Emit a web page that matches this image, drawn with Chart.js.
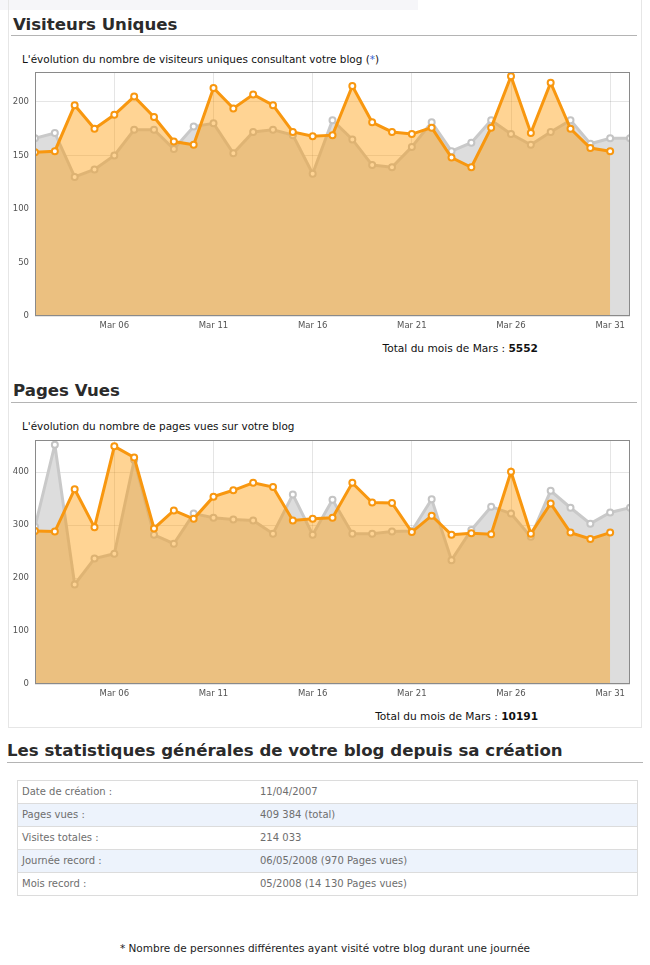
<!DOCTYPE html>
<html>
<head>
<meta charset="utf-8">
<script src="https://cdn.jsdelivr.net/npm/chart.js@4.4.1/dist/chart.umd.min.js"></script>
<style>
  html, body { margin:0; padding:0; background:#fff; }
  body { width:650px; height:965px; position:relative; overflow:hidden; font-family:"DejaVu Sans", sans-serif; color:#222; }
  .abs { position:absolute; white-space:nowrap; }
  .topband { left:0; top:0; width:418px; height:10px; background:#f6f6f9; }
  .panel { left:8px; top:-1px; width:632px; height:727px; border:1px solid #e6e6e6; }
  .h2 { font-weight:bold; font-size:16.6px; line-height:20px; height:20px; color:#2b2b2b; }
  .rule { height:1px; background:#b4b4b4; }
  .sub { font-size:10.45px; line-height:14px; height:14px; color:#111; }
  .sub .star { color:#3a66d0; }
  .total { font-size:10.6px; line-height:14px; height:14px; color:#111; }
  .total b { font-weight:bold; }
  canvas { position:absolute; left:0; }
  .tbl { left:17px; top:780px; width:619px; border:1px solid #dcdcdc; }
  .row { position:relative; height:22px; border-top:1px solid #dcdcdc; font-size:10px; color:#6e6e6e; }
  .row:first-child { border-top:none; }
  .row.alt { background:#edf3fc; }
  .row span { position:absolute; top:0; line-height:22px; white-space:nowrap; }
  .row .k { left:4px; }
  .row .v { left:242px; }
  .foot { left:0; width:650px; text-align:center; font-size:10.5px; line-height:14px; color:#222; }
</style>
</head>
<body>
<div class="abs topband"></div>
<div class="abs panel"></div>

<div class="abs h2" style="left:13px; top:15px;">Visiteurs Uniques</div>
<div class="abs rule" style="left:11px; top:35px; width:626px;"></div>
<div class="abs sub" style="left:22px; top:52px;">L'évolution du nombre de visiteurs uniques consultant votre blog (<span class="star">*</span>)</div>
<canvas id="c1" width="640" height="280" style="top:60px; width:640px; height:280px;"></canvas>
<div class="abs total" style="right:112px; top:341px;">Total du mois de Mars : <b>5552</b></div>

<div class="abs h2" style="left:13px; top:381px;">Pages Vues</div>
<div class="abs rule" style="left:11px; top:402px; width:626px;"></div>
<div class="abs sub" style="left:22px; top:419px;">L'évolution du nombre de pages vues sur votre blog</div>
<canvas id="c2" width="640" height="280" style="top:428px; width:640px; height:280px;"></canvas>
<div class="abs total" style="right:112px; top:709px;">Total du mois de Mars : <b>10191</b></div>

<div class="abs h2" style="left:7px; top:741px;">Les statistiques générales de votre blog depuis sa création</div>
<div class="abs rule" style="left:7px; top:762px; width:636px;"></div>

<div class="abs tbl">
  <div class="row"><span class="k">Date de création :</span><span class="v">11/04/2007</span></div>
  <div class="row alt"><span class="k">Pages vues :</span><span class="v">409 384 (total)</span></div>
  <div class="row"><span class="k">Visites totales :</span><span class="v">214 033</span></div>
  <div class="row alt"><span class="k">Journée record :</span><span class="v">06/05/2008 (970 Pages vues)</span></div>
  <div class="row"><span class="k">Mois record :</span><span class="v">05/2008 (14 130 Pages vues)</span></div>
</div>

<div class="abs foot" style="top:941px;">* Nombre de personnes différentes ayant visité votre blog durant une journée</div>

<script>
// ---- data ----
const days = [2,3,4,5,6,7,8,9,10,11,12,13,14,15,16,17,18,19,20,21,22,23,24,25,26,27,28,29,30,31,32];
const xTickDays = [6,11,16,21,26,31];
const xTickLabels = ['Mar 06','Mar 11','Mar 16','Mar 21','Mar 26','Mar 31'];

// Visiteurs uniques (current month, orange) Mar 02 .. Mar 31
const visitors = [153,154,197,175,188,205,186,163,160,213,194,207,197,172,168,169,215,181,172,170,176,148,139,176,224,171,218,175,157,154];
// Visiteurs uniques (previous period, grey) Mar 02 .. Apr 01
const visitorsPrev = [166,171,130,137,150,174,174,156,177,180,152,172,174,169,133,183,165,141,139,158,181,154,162,183,170,160,172,183,161,166,166];
const yTicks1 = [0,50,100,150,200];
const yMax1 = 228;

// Pages vues (current month, orange)
const pageViews = [289,288,368,296,449,428,294,328,312,354,366,380,372,309,312,314,380,343,342,287,318,282,285,283,401,284,341,286,274,286];
// Pages vues (previous period, grey)
const pageViewsPrev = [297,452,188,237,246,423,282,265,322,314,311,309,284,358,282,348,284,284,288,289,349,234,291,335,322,278,365,333,303,324,333];
const yTicks2 = [0,100,200,300,400];
const yMax2 = 461;

// ---- chart ----
Chart.defaults.font.family = '"DejaVu Sans", sans-serif';
const toXY = arr => arr.map((v, i) => ({ x: days[i], y: v }));

const framePlugin = {
  id: 'frame',
  afterDraw(chart) {
    const a = chart.chartArea, ctx = chart.ctx;
    ctx.save();
    ctx.strokeStyle = '#8a8a8a';
    ctx.lineWidth = 1;
    ctx.strokeRect(Math.round(a.left) + 0.5, Math.round(a.top) + 0.5, Math.round(a.right - a.left) - 1, Math.round(a.bottom - a.top) - 1);
    ctx.restore();
  }
};

function makeChart(id, cur, prev, yMax, yTicks) {
  new Chart(document.getElementById(id), {
    type: 'line',
    data: {
      datasets: [
        {
          data: toXY(cur),
          borderColor: '#f8970f',
          backgroundColor: 'rgba(255,153,0,0.42)',
          borderWidth: 3,
          fill: 'origin',
          tension: 0,
          pointRadius: 3,
          pointBorderWidth: 2,
          pointBackgroundColor: '#ffffff',
          pointBorderColor: '#f8970f'
        },
        {
          data: toXY(prev),
          borderColor: '#c9c9c9',
          backgroundColor: '#dddddd',
          borderWidth: 3,
          fill: 'origin',
          tension: 0,
          pointRadius: 3,
          pointBorderWidth: 2,
          pointBackgroundColor: '#ffffff',
          pointBorderColor: '#c4c4c4'
        }
      ]
    },
    options: {
      responsive: false,
      animation: false,
      devicePixelRatio: 1,
      layout: { padding: { top: 12, right: 10, bottom: 0, left: 0 } },
      plugins: { legend: { display: false }, tooltip: { enabled: false } },
      scales: {
        x: {
          type: 'linear',
          min: days[0],
          max: days[days.length - 1],
          afterBuildTicks: s => { s.ticks = xTickDays.map(v => ({ value: v })); },
          afterFit: s => { s.height = 24; },
          ticks: {
            autoSkip: false,
            maxRotation: 0,
            padding: 5,
            color: '#545454',
            font: { size: 8.5 },
            callback: v => xTickLabels[xTickDays.indexOf(v)]
          },
          grid: { color: 'rgba(0,0,0,0.1)', drawTicks: false },
          border: { display: false }
        },
        y: {
          min: 0,
          max: yMax,
          afterBuildTicks: s => { s.ticks = yTicks.map(v => ({ value: v })); },
          afterFit: s => { s.width = 35; },
          ticks: {
            padding: 6,
            color: '#545454',
            font: { size: 8.5 },
            callback: v => String(v)
          },
          grid: { color: 'rgba(0,0,0,0.1)', drawTicks: false },
          border: { display: false }
        }
      }
    },
    plugins: [framePlugin]
  });
}

makeChart('c1', visitors, visitorsPrev, yMax1, yTicks1);
makeChart('c2', pageViews, pageViewsPrev, yMax2, yTicks2);
</script>
</body>
</html>
